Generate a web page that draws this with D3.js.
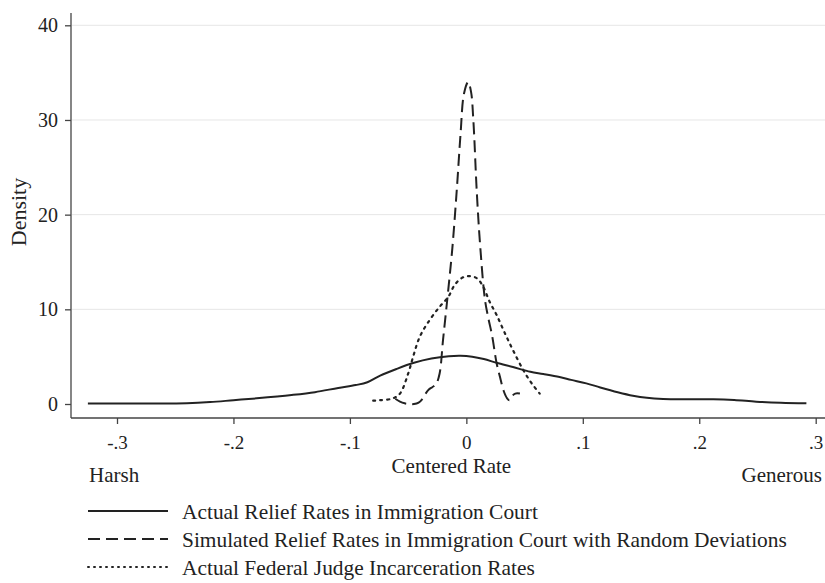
<!DOCTYPE html>
<html>
<head>
<meta charset="utf-8">
<script src="https://cdn.jsdelivr.net/npm/d3@7/dist/d3.min.js"></script>
<style>
  html, body { margin: 0; padding: 0; background: #fff; }
  svg { display: block; }
  text { font-family: "Liberation Serif", "DejaVu Serif", serif; fill: #222; }
</style>
</head>
<body>
<svg id="chart" width="825" height="583"></svg>
<script>
// Kernel density estimates of centered rates (x = centered rate, y = density)
const actualReliefX = [-0.325, -0.30, -0.27, -0.24, -0.22, -0.20, -0.18, -0.15, -0.13, -0.11, -0.095, -0.085, -0.074, -0.06, -0.045, -0.03, -0.015, -0.005, 0.005, 0.015, 0.026, 0.04, 0.055, 0.066, 0.08, 0.09, 0.103, 0.115, 0.13, 0.143, 0.155, 0.169, 0.19, 0.212, 0.23, 0.249, 0.27, 0.292];
const actualReliefY = [0.05, 0.05, 0.05, 0.08, 0.2, 0.4, 0.6, 0.95, 1.25, 1.7, 2.0, 2.3, 3.0, 3.7, 4.35, 4.8, 5.05, 5.1, 5.0, 4.75, 4.35, 3.9, 3.4, 3.17, 2.85, 2.55, 2.18, 1.75, 1.25, 0.88, 0.65, 0.53, 0.5, 0.5, 0.42, 0.25, 0.13, 0.07];

const simulatedX = [-0.061, -0.057, -0.053, -0.049, -0.045, -0.041, -0.038, -0.035, -0.032, -0.029, -0.026, -0.023, -0.020, -0.016, -0.012, -0.008, -0.005, -0.002, 0.0015, 0.004, 0.006, 0.009, 0.012, 0.016, 0.019, 0.022, 0.026, 0.029, 0.032, 0.035, 0.037, 0.039, 0.042, 0.046];
const simulatedY = [0.55, 0.25, 0.07, 0.0, 0.0, 0.15, 0.5, 1.1, 1.55, 1.8, 2.1, 3.2, 6.8, 11.5, 16.5, 23.0, 28.5, 32.8, 34.0, 33.0, 30.0, 22.3, 16.5, 11.0, 9.0, 7.3, 4.3, 2.8, 1.4, 0.6, 0.4, 0.8, 1.1, 1.1];

const federalX = [-0.080, -0.074, -0.063, -0.057, -0.050, -0.0457, -0.040, -0.0313, -0.0227, -0.0156, -0.0099, -0.004, 0.0016, 0.0088, 0.0144, 0.020, 0.026, 0.033, 0.040, 0.0488, 0.056, 0.063];
const federalY = [0.35, 0.4, 0.6, 1.1, 3.2, 5.0, 7.1, 8.9, 10.3, 11.3, 12.6, 13.3, 13.5, 13.3, 12.4, 10.8, 9.4, 7.5, 5.7, 3.6, 2.2, 1.1];

const xTickValues = [-0.3, -0.2, -0.1, 0, 0.1, 0.2, 0.3];
const xTickLabels = ["-.3", "-.2", "-.1", "0", ".1", ".2", ".3"];
const yTickValues = [0, 10, 20, 30, 40];

const seriesNames = [
  "Actual Relief Rates in Immigration Court",
  "Simulated Relief Rates in Immigration Court with Random Deviations",
  "Actual Federal Judge Incarceration Rates"
];
const seriesDash = [null, "12,6", "2,5"];

const svg = d3.select("#chart");
const ink = "#222";

const x = d3.scaleLinear().domain([-0.3, 0.3]).range([117, 815.7]);
const y = d3.scaleLinear().domain([0, 40]).range([404, 25.3]);

const plotLeft = 71, plotRight = 825, axisY = 418, axisTop = 13;

// horizontal grid lines
svg.append("g")
  .selectAll("line")
  .data(yTickValues.filter(d => d > 0))
  .join("line")
  .attr("x1", plotLeft + 1).attr("x2", plotRight)
  .attr("y1", d => y(d)).attr("y2", d => y(d))
  .attr("stroke", "#e6e6e6").attr("stroke-width", 1);

// y axis
const yAxis = d3.axisLeft(y).tickValues(yTickValues).tickSize(6).tickPadding(7).tickFormat(d3.format("d"));
const gy = svg.append("g").attr("transform", `translate(${plotLeft},0)`).call(yAxis);
gy.select(".domain").attr("d", `M0,${axisTop}V${axisY}`).attr("stroke", "#444").attr("stroke-width", 1.3);
gy.selectAll(".tick line").attr("stroke", "#444").attr("stroke-width", 1.3);
gy.selectAll(".tick text").attr("font-size", 20).attr("font-family", "Liberation Serif").attr("fill", ink);

// x axis
const xAxis = d3.axisBottom(x).tickValues(xTickValues).tickSize(6).tickPadding(12)
  .tickFormat((d, i) => xTickLabels[i]);
const gx = svg.append("g").attr("transform", `translate(0,${axisY})`).call(xAxis);
gx.select(".domain").attr("d", `M${plotLeft},0H${plotRight}`).attr("stroke", "#444").attr("stroke-width", 1.3);
gx.selectAll(".tick line").attr("stroke", "#444").attr("stroke-width", 1.3);
gx.selectAll(".tick text").attr("font-size", 19).attr("font-family", "Liberation Serif").attr("fill", ink);

// density curves
const line = d3.line().x(d => x(d[0])).y(d => y(d[1])).curve(d3.curveCatmullRom.alpha(0.5));
const series = [
  d3.zip(actualReliefX, actualReliefY),
  d3.zip(simulatedX, simulatedY),
  d3.zip(federalX, federalY)
];
series.forEach((pts, i) => {
  svg.append("path")
    .datum(pts)
    .attr("d", line)
    .attr("fill", "none")
    .attr("stroke", ink)
    .attr("stroke-width", i === 2 ? 2.2 : 2)
    .attr("stroke-linecap", i === 2 ? "round" : "butt")
    .attr("stroke-dasharray", seriesDash[i]);
});

// axis titles
svg.append("text")
  .attr("transform", "translate(26,212) rotate(-90)")
  .attr("text-anchor", "middle")
  .attr("font-size", 22)
  .text("Density");

svg.append("text")
  .attr("x", x(0) - 15).attr("y", 473)
  .attr("text-anchor", "middle")
  .attr("font-size", 21)
  .text("Centered Rate");

svg.append("text")
  .attr("x", 89).attr("y", 482)
  .attr("font-size", 21)
  .text("Harsh");

svg.append("text")
  .attr("x", 822).attr("y", 482)
  .attr("text-anchor", "end")
  .attr("font-size", 21)
  .text("Generous");

// legend
const legend = svg.append("g");
seriesNames.forEach((name, i) => {
  const ly = 511 + i * 28;
  legend.append("line")
    .attr("x1", 88).attr("x2", 168)
    .attr("y1", ly).attr("y2", ly)
    .attr("stroke", ink)
    .attr("stroke-width", i === 2 ? 2 : 1.8)
    .attr("stroke-linecap", i === 2 ? "round" : "butt")
    .attr("stroke-dasharray", i === 2 ? "1,5" : seriesDash[i]);
  legend.append("text")
    .attr("x", 182).attr("y", ly + 8)
    .attr("font-size", 21.4)
    .text(name);
});
</script>
</body>
</html>
